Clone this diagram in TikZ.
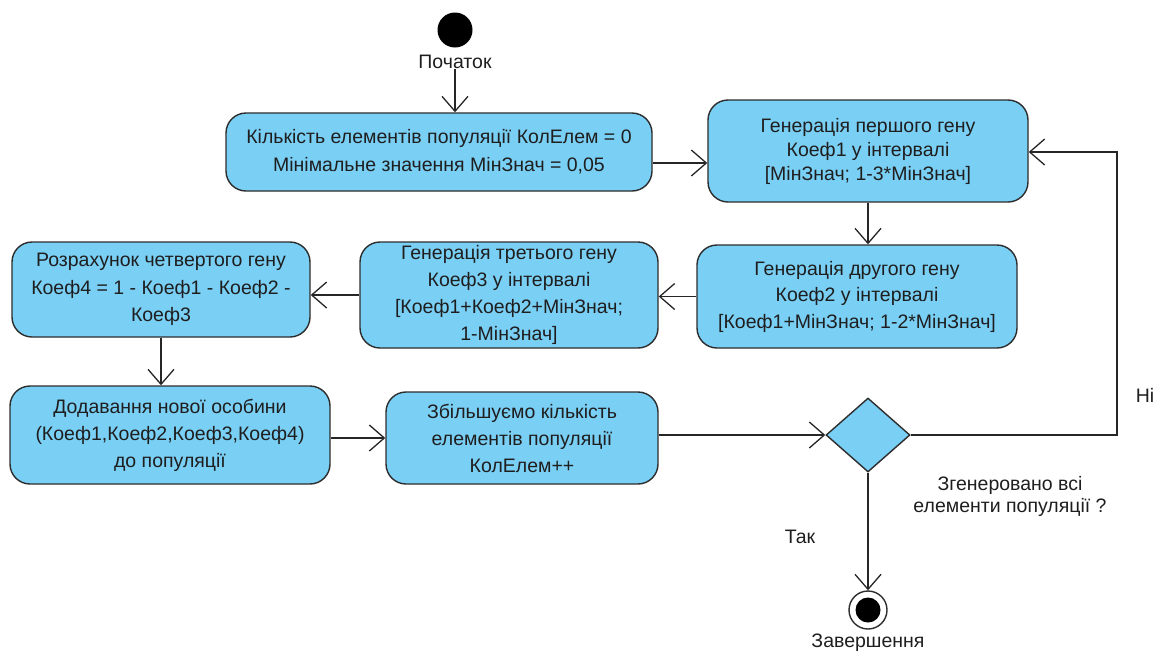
\documentclass[tikz,border=0pt]{standalone}
\usepackage{fontspec}
\setmainfont{Liberation Sans}
\usetikzlibrary{arrows.meta,shapes.geometric}
\definecolor{actfill}{RGB}{122,207,245}
\definecolor{actdraw}{RGB}{45,45,45}
\definecolor{txt}{RGB}{30,30,30}
\begin{document}
\begin{tikzpicture}[x=1pt,y=-1pt,
  act/.style={draw=actdraw, line width=1.4pt, fill=actfill, rounded corners=20pt,
    align=center, inner sep=0pt, text=txt},
  flow/.style={draw=black!85, line width=1.3pt,
    -{Straight Barb[length=15pt,width=26pt,line width=1.3pt]}},
  lbl/.style={font=\fontsize{19.5}{22}\selectfont, align=center, inner sep=0pt, text=txt}
]
\useasboundingbox (0,0) rectangle (1164,657);

% start
\node[circle, fill=black, minimum size=35pt, inner sep=0pt] (start) at (455,30) {};
\node[lbl] (startlbl) at (455,62) {Початок};

% activities
\node[act, minimum width=426pt, minimum height=78pt, font=\fontsize{19.5}{28}\selectfont]
  (b1) at (439,152) {Кількість елементів популяції КолЕлем = 0\\Мінімальне значення МінЗнач = 0,05};
\node[act, minimum width=320pt, minimum height=102pt, font=\fontsize{19.5}{24}\selectfont]
  (b2) at (868,151) {Генерація першого гену\\Коеф1 у інтервалі\\{[}МінЗнач; 1-3*МінЗнач{]}};
\node[act, minimum width=320pt, minimum height=103pt, font=\fontsize{19.5}{26.5}\selectfont]
  (b3) at (857,296.5) {Генерація другого гену\\Коеф2 у інтервалі\\{[}Коеф1+МінЗнач; 1-2*МінЗнач{]}};
\node[act, minimum width=298pt, minimum height=106pt, font=\fontsize{19.5}{27}\selectfont]
  (b4) at (509,295) {Генерація третього гену\\Коеф3 у інтервалі\\{[}Коеф1+Коеф2+МінЗнач;\\1-МінЗнач{]}};
\node[act, minimum width=298pt, minimum height=95pt, font=\fontsize{19.5}{27.5}\selectfont]
  (b5) at (161,289.5) {Розрахунок четвертого гену\\Коеф4 = 1 - Коеф1 - Коеф2 -\\Коеф3};
\node[act, minimum width=320pt, minimum height=98pt, font=\fontsize{19.5}{27}\selectfont]
  (b6) at (170,435) {Додавання нової особини\\(Коеф1,Коеф2,Коеф3,Коеф4)\\до популяції};
\node[act, minimum width=272pt, minimum height=92pt, font=\fontsize{19.5}{27}\selectfont]
  (b7) at (522,438) {Збільшуємо кількість\\елементів популяції\\КолЕлем++};

% decision
\node[diamond, draw=actdraw, line width=1.4pt, fill=actfill, minimum width=84pt,
  minimum height=74pt, inner sep=0pt] (d) at (868,435) {};

% end
\node[circle, draw=actdraw, line width=1.4pt, fill=white, minimum size=38pt, inner sep=0pt] (end) at (868,610) {};
\fill[black] (end.center) circle (12.5pt);
\node[lbl] (endlbl) at (868,643) {Завершення};

% labels
\node[lbl] (no) at (1145,395) {Ні};
\node[lbl] (yes) at (800,537) {Так};
\node[lbl, font=\fontsize{19.5}{22}\selectfont] (q) at (1010,496) {Згенеровано всі\\елементи популяції ?};

% connectors
\draw[flow] (startlbl.south) -- (startlbl.south |- b1.north);
\draw[flow] ([yshift=-11pt]b1.east) -- ([yshift=-11pt]b1.east -| b2.west);
\draw[flow] (b2.south) -- (b2.south |- b3.north);
\draw[flow] (b3.west) -- (b3.west -| b4.east);
\draw[flow] (b4.west) -- (b4.west -| b5.east);
\draw[flow] (b5.south) -- (b5.south |- b6.north);
\draw[flow] (b7.west -| b6.east) -- (b7.west);
\draw[flow] (d.west -| b7.east) -- (d.west);
\coordinate (r) at (1117,152);
\draw[flow] (d.east) -| (r) -- (b2.east |- r);
\draw[flow] (d.south) -- (end.north);
\end{tikzpicture}
\end{document}
